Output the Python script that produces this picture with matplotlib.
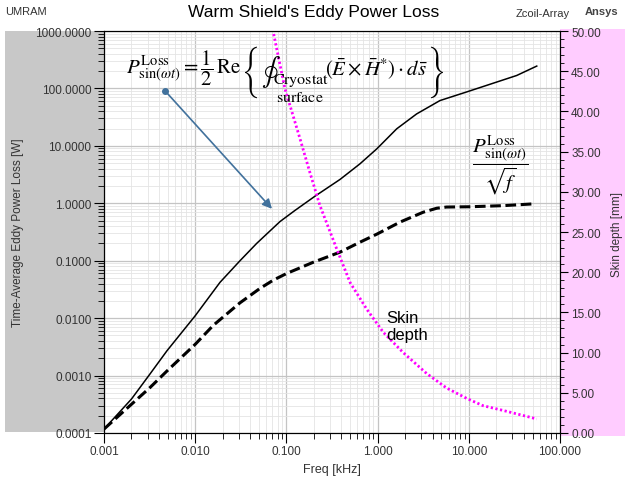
import matplotlib
matplotlib.use('Agg')
import matplotlib.pyplot as plt
from matplotlib.patches import Rectangle
from matplotlib.ticker import LogLocator, FormatStrFormatter, MultipleLocator, NullFormatter

# values
freq_solid = [0.001, 0.002, 0.0032, 0.0049, 0.01, 0.0187, 0.031, 0.0472, 0.085, 0.124,
              0.206, 0.387, 0.64, 0.98, 1.62, 2.68, 4.83, 9.5, 20.2, 33.5, 55.6]
loss_solid = [0.000117, 0.00039, 0.00107, 0.0027, 0.011, 0.042, 0.10, 0.20, 0.48, 0.75,
              1.33, 2.6, 4.86, 8.87, 19.8, 36, 61.5, 87, 129, 168, 245]

freq_dashed = [0.001, 0.0032, 0.0049, 0.01, 0.0158, 0.031, 0.0514, 0.072, 0.1007, 0.197,
               0.387, 0.64, 0.98, 1.76, 3.17, 4.45, 5.7, 10.2, 24.1, 52.7]
loss_dashed = [0.000117, 0.00062, 0.0012, 0.0035, 0.0075, 0.0185, 0.033, 0.046, 0.060, 0.094,
               0.141, 0.21, 0.29, 0.47, 0.70, 0.82, 0.86, 0.87, 0.91, 0.98]

freq_skin = [0.0708, 0.0965, 0.141, 0.181, 0.233, 0.356, 0.50, 0.76, 1.16, 1.91, 3.45,
             5.7, 9.5, 14.3, 23.9, 55.6]
skin_mm = [50.2, 42.8, 36.6, 32.4, 28.3, 22.9, 18.7, 15.4, 12.5, 10.0, 7.4,
           5.6, 4.3, 3.4, 2.8, 1.75]

x_ticks = [0.001, 0.01, 0.1, 1, 10, 100]
y_ticks = [1e-4, 1e-3, 1e-2, 1e-1, 1, 10, 100, 1000]

plt.rcParams['font.family'] = ['Liberation Sans', 'DejaVu Sans']
plt.rcParams['mathtext.fontset'] = 'stix'

W, H = 625, 489
fig = plt.figure(figsize=(W / 100, H / 100), dpi=100)


def px(x, y):
    # pixel position (from top-left) -> figure fraction
    return x / W, 1 - y / H


# side panels behind the axis labels
fig.patches.append(Rectangle((5 / W, 1 - 433 / H), 99 / W, 401 / H, transform=fig.transFigure,
                             facecolor='#c8c8c8', edgecolor='none', zorder=-1))
fig.patches.append(Rectangle((560 / W, 1 - 437 / H), 65 / W, 407 / H, transform=fig.transFigure,
                             facecolor='#ffccff', edgecolor='none', zorder=-1))

ax = fig.add_axes([104 / W, 1 - 434 / H, 456 / W, 402 / H])
ax.set_facecolor('white')
ax.set_xscale('log')
ax.set_yscale('log')
ax.set_xlim(0.001, 100)
ax.set_ylim(1e-4, 1e3)

ax.plot(freq_solid, loss_solid, color='black', linewidth=1.1)
ax.plot(freq_dashed, loss_dashed, color='black', linewidth=2.2, dashes=(3.5, 1.5))

ax.set_xticks(x_ticks)
ax.set_yticks(y_ticks)
ax.xaxis.set_minor_locator(LogLocator(base=10, subs=range(2, 10), numticks=20))
ax.yaxis.set_minor_locator(LogLocator(base=10, subs=range(2, 10), numticks=20))
ax.xaxis.set_major_formatter(FormatStrFormatter('%.3f'))
ax.yaxis.set_major_formatter(FormatStrFormatter('%.4f'))
ax.xaxis.set_minor_formatter(NullFormatter())
ax.yaxis.set_minor_formatter(NullFormatter())

ax.grid(True, which='major', color='#c4c4c4', linewidth=0.9)
ax.grid(True, which='minor', color='#e4e4e4', linewidth=0.6)
ax.set_axisbelow(True)

ax.tick_params(which='major', length=7, width=0.8, direction='out', labelsize=8.5,
               labelcolor='#333333', pad=2)
ax.tick_params(which='minor', length=4, width=0.6, direction='out')
for s in ax.spines.values():
    s.set_linewidth(0.8)

ax2 = ax.twinx()
ax2.set_ylim(0, 50)
ax2.plot(freq_skin, skin_mm, color='#ff00ff', linewidth=2.0, dashes=(0.8, 0.9))
ax2.yaxis.set_major_locator(MultipleLocator(5))
ax2.yaxis.set_minor_locator(MultipleLocator(1))
ax2.yaxis.set_major_formatter(FormatStrFormatter('%.2f'))
ax2.tick_params(which='major', length=6, width=0.8, direction='out', labelsize=8.5,
                labelcolor='#333333', pad=2)
ax2.tick_params(which='minor', length=3, width=0.6, direction='out')

# annotation: formula with arrow
ax.annotate('', xy=(0.0695, 0.80), xytext=(0.00467, 90.8),
            arrowprops=dict(arrowstyle='-|>', color='#41719c', lw=1.2,
                            mutation_scale=14, shrinkA=0, shrinkB=0))
ax.plot([0.00467], [90.8], marker='o', markersize=4, color='#41719c')

# the surface-integral formula, set in pieces
fig.text(*px(126, 74), r'$P^{\mathrm{Loss}}_{\sin(\omega t)} = \dfrac{1}{2}\,\mathrm{Re}$',
         ha='left', va='baseline', fontsize=15)
fig.text(*px(242, 90), '{', family='STIXSizeThreeSym', ha='left', va='baseline', fontsize=15)
fig.text(*px(261, 78), '\u222e', family='STIXGeneral', ha='left', va='baseline', fontsize=20)
fig.text(*px(273, 84), r'$\mathrm{Cryostat}$', ha='left', va='baseline', fontsize=11.5)
fig.text(*px(276, 102), r'$\mathrm{surface}$', ha='left', va='baseline', fontsize=11.5)
fig.text(*px(325, 76), r'$(\bar{E}\times\bar{H}^{*})\cdot d\bar{s}$', ha='left',
         va='baseline', fontsize=15)
fig.text(*px(426, 90), '}', family='STIXSizeThreeSym', ha='left', va='baseline', fontsize=15)

fig.text(*px(500, 165), r'$\dfrac{P^{\mathrm{Loss}}_{\sin(\omega t)}}{\sqrt{f}}$',
         ha='center', va='center', fontsize=15)
fig.text(*px(386, 311), 'Skin\ndepth', ha='left', va='top', fontsize=12, linespacing=1.15)

# header and axis titles
fig.text(*px(314, 13), "Warm Shield's Eddy Power Loss", ha='center', va='center',
         fontsize=12.5)
fig.text(*px(5, 12), 'UMRAM', ha='left', va='center', fontsize=8, color='#333333')
fig.text(*px(516, 14), 'Zcoil-Array', ha='left', va='center', fontsize=8, color='#333333')
fig.text(*px(585, 12), 'Ansys', ha='left', va='center', fontsize=8, fontweight='bold',
         color='#444444')
fig.text(*px(332, 470), 'Freq [kHz]', ha='center', va='center', fontsize=9, color='#333333')
fig.text(*px(18, 233), 'Time-Average Eddy Power Loss [W]', ha='center', va='center',
         rotation=90, fontsize=8.5, color='#333333')
fig.text(*px(617, 235), 'Skin depth [mm]', ha='center', va='center', rotation=90,
         fontsize=8.5, color='#333333')

fig.savefig('out.png', dpi=100)
